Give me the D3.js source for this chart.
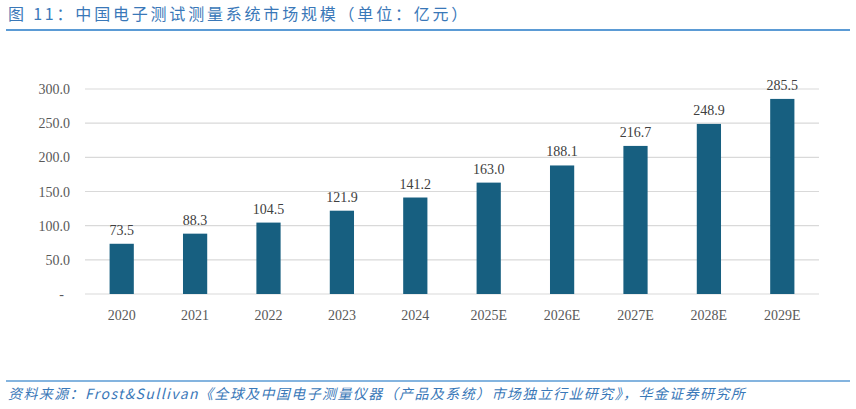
<!DOCTYPE html><html><head><meta charset="utf-8"><script src="https://cdn.jsdelivr.net/npm/d3@7"></script>
<style>body{margin:0;background:#fff}</style></head><body><svg id="c" width="856" height="409"></svg>
<script>
const categories=["2020","2021","2022","2023","2024","2025E","2026E","2027E","2028E","2029E"];
const values=[73.5,88.3,104.5,121.9,141.2,163.0,188.1,216.7,248.9,285.5];
const ticks=[0,50,100,150,200,250,300];
const svg=d3.select("#c");
const serif="'Liberation Serif','Times New Roman',serif";
const cjk="'Noto Sans CJK SC',sans-serif";
svg.append("text").attr("x",8).attr("y",20).attr("fill","#3a78b8").attr("font-family",cjk).attr("font-size",16).attr("letter-spacing",2.8)
 .text("图 11：中国电子测试测量系统市场规模（单位：亿元）");
svg.append("line").attr("x1",6).attr("x2",850).attr("y1",30).attr("y2",30).attr("stroke","#5b9bd5").attr("stroke-width",2);
const x=d3.scaleBand().domain(categories).range([85,819]).paddingInner(0.67).paddingOuter(0.335);
const y=d3.scaleLinear().domain([0,300]).range([294,89]);
svg.append("g").selectAll("line").data(ticks).join("line").attr("x1",85).attr("x2",819)
 .attr("y1",d=>y(d)).attr("y2",d=>y(d)).attr("stroke","#d9d9d9").attr("stroke-width",1.2);
svg.append("g").selectAll("text").data(ticks).join("text").attr("x",d=>d===0?64:70).attr("y",d=>y(d)+5)
 .attr("text-anchor","end").attr("font-family",serif).attr("font-size",14).attr("fill","#595959")
 .text(d=>d===0?"-":d.toFixed(1));
svg.append("g").selectAll("rect").data(values).join("rect").attr("x",(d,i)=>x(categories[i])).attr("width",x.bandwidth())
 .attr("y",d=>y(d)).attr("height",d=>y(0)-y(d)).attr("fill","#175f80");
svg.append("g").selectAll("text").data(values).join("text").attr("x",(d,i)=>x(categories[i])+x.bandwidth()/2).attr("y",d=>y(d)-9)
 .attr("text-anchor","middle").attr("font-family",serif).attr("font-size",14).attr("fill","#404040").text(d=>d.toFixed(1));
svg.append("g").selectAll("text").data(categories).join("text").attr("x",d=>x(d)+x.bandwidth()/2).attr("y",320)
 .attr("text-anchor","middle").attr("font-family",serif).attr("font-size",14).attr("fill","#595959").text(d=>d);
svg.append("line").attr("x1",6).attr("x2",850).attr("y1",381).attr("y2",381).attr("stroke","#5b9bd5").attr("stroke-width",1.5);
svg.append("text").attr("x",8).attr("y",399).attr("fill","#3a78b8").attr("font-family",cjk).attr("font-size",14).attr("font-style","italic").attr("letter-spacing",1.4)
 .text("资料来源：Frost&Sullivan《全球及中国电子测量仪器（产品及系统）市场独立行业研究》，华金证券研究所");
</script></body></html>
